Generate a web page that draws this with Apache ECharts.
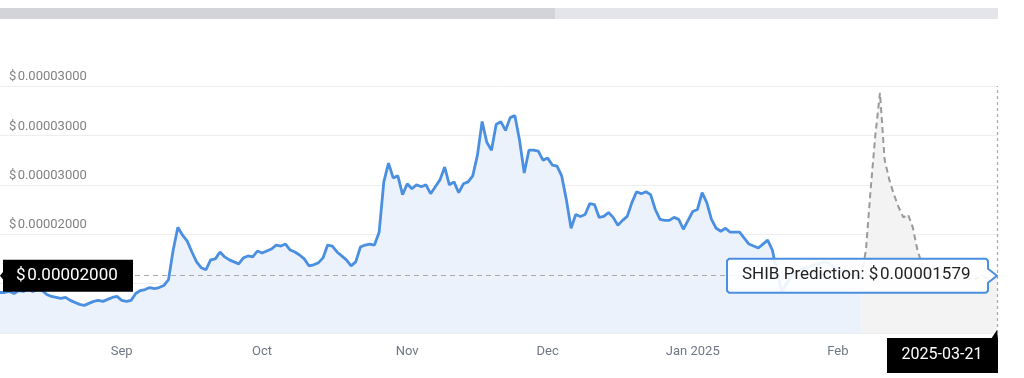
<!DOCTYPE html>
<html><head><meta charset="utf-8">
<script src="https://cdn.jsdelivr.net/npm/echarts@6/dist/echarts.min.js"></script>
<style>html,body{margin:0;padding:0;background:#fff}#c{width:1024px;height:378px}</style>
</head><body><div id="c"></div>
<script>
// ---- data (prices in units of 0.00001 USD) ----
const startDate = '2024-08-20';
const endDate = '2025-03-21';
const predictionStart = '2025-02-20';
const historyPrices = [
 1.41,1.41,1.42,1.40,1.43,1.42,1.44,1.42,1.44,1.43,
 1.39,1.37,1.36,1.35,1.36,1.33,1.31,1.29,1.28,1.30,
 1.32,1.33,1.32,1.34,1.36,1.37,1.33,1.32,1.33,1.40,
 1.43,1.44,1.46,1.45,1.46,1.48,1.54,1.84,2.07,1.99,
 1.93,1.82,1.72,1.66,1.64,1.74,1.75,1.82,1.77,1.74,
 1.72,1.70,1.76,1.78,1.77,1.83,1.81,1.83,1.85,1.89,
 1.88,1.90,1.84,1.82,1.79,1.75,1.68,1.69,1.71,1.76,
 1.89,1.88,1.82,1.78,1.74,1.68,1.72,1.87,1.89,1.90,
 1.89,2.02,2.53,2.72,2.57,2.59,2.40,2.51,2.46,2.50,
 2.48,2.50,2.41,2.48,2.55,2.68,2.50,2.53,2.42,2.51,
 2.53,2.59,2.80,3.14,2.93,2.85,3.11,3.14,3.05,3.18,
 3.20,2.95,2.62,2.85,2.85,2.84,2.75,2.77,2.70,2.69,
 2.59,2.35,2.06,2.20,2.18,2.20,2.31,2.30,2.17,2.18,
 2.22,2.17,2.09,2.14,2.18,2.32,2.43,2.41,2.43,2.40,
 2.25,2.15,2.14,2.14,2.17,2.15,2.05,2.14,2.23,2.25,
 2.42,2.32,2.15,2.06,2.03,2.06,2.02,2.02,2.02,1.96,
 1.90,1.88,1.86,1.90,1.94,1.84,1.62,1.42,1.50,1.57,
 1.62,1.64,1.66,1.67,1.69,1.70,1.72,1.71,1.67,1.65,
 1.63,1.61,1.59,1.58,1.56
];
const predictionPrices = [
 1.56,1.84,2.45,3.00,3.43,2.75,2.55,2.40,2.27,2.17,
 2.20,2.07,1.84,1.69,1.62,1.59,1.58,1.56,1.57,1.55,
 1.54,1.56,1.57,1.55,1.54,1.56,1.57,1.55,1.56,1.579
];
const yMin = 1, yMax = 3.5, yStep = 0.5;
const yTickLabels = ['$\u200A0.00001000','$\u200A0.00002000','$\u200A0.00002000','$\u200A0.00003000','$\u200A0.00003000','$\u200A0.00003000'];
const xTickDates = ['2024-09-15','2024-10-15','2024-11-15','2024-12-15','2025-01-15','2025-02-15','2025-03-15'];
const xTickLabels = ['Sep','Oct','Nov','Dec','Jan 2025','Feb','Mar'];
const seriesName = 'SHIB Prediction';

// ---- categories (daily dates) ----
const dates = [];
for (let t = Date.parse(startDate + 'T00:00:00Z'); t <= Date.parse(endDate + 'T00:00:00Z'); t += 86400000) {
  dates.push(new Date(t).toISOString().slice(0, 10));
}
const predIdx = dates.indexOf(predictionStart);
const histData = dates.map((d, i) => i < historyPrices.length ? historyPrices[i] : '-');
const predData = dates.map((d, i) => i >= predIdx ? predictionPrices[i - predIdx] : '-');
const lastVal = predictionPrices[predictionPrices.length - 1];

const BLUE = '#4a8fe0';
const chart = echarts.init(document.getElementById('c'), null, {renderer: 'canvas'});
chart.setOption({
  animation: false,
  textStyle: {fontFamily: 'Roboto'},
  grid: {left: 0, right: 27, top: 86, bottom: 45, containLabel: false, outerBoundsMode: 'none'},
  xAxis: {
    type: 'category', data: dates, boundaryGap: false,
    axisLine: {show: false}, axisTick: {show: false}, splitLine: {show: false},
    axisLabel: {
      interval: (i, v) => xTickDates.indexOf(v) >= 0,
      formatter: v => xTickLabels[xTickDates.indexOf(v)] || '',
      color: '#707784', fontSize: 13, margin: 12, fontFamily: 'Roboto'
    }
  },
  yAxis: {
    type: 'value', min: yMin, max: yMax, interval: yStep,
    axisLine: {show: false}, axisTick: {show: false},
    splitLine: {lineStyle: {color: '#eeeeee', width: 1}},
    axisLabel: {
      inside: true, margin: 9, verticalAlign: 'bottom', lineHeight: 14, padding: [0, 0, 2, 0],
      color: '#828282', fontSize: 13, fontFamily: 'Roboto',
      formatter: v => yTickLabels[Math.round((v - yMin) / yStep)]
    }
  },
  series: [
    {
      type: 'line', name: 'SHIB', data: histData, symbol: 'none', z: 2,
      lineStyle: {color: BLUE, width: 2.8},
      areaStyle: {color: '#ebf2fc', opacity: 1}
    },
    {
      type: 'line', name: seriesName, data: predData, symbol: 'none', z: 3,
      lineStyle: {color: '#9a9a9a', width: 2, type: [6, 4]},
      areaStyle: {color: '#f3f3f3', opacity: 1},
      markLine: {
        silent: true, symbol: ['none', 'none'], label: {show: false},
        data: [
          {xAxis: endDate, lineStyle: {type: [3, 3], color: '#aaaaaa', width: 1.2}},
          {yAxis: lastVal, lineStyle: {type: [5, 4], color: '#aaaaaa', width: 1.2}}
        ]
      }
    }
  ]
});

const px = chart.convertToPixel({xAxisIndex: 0}, endDate);
const py = chart.convertToPixel({yAxisIndex: 0}, lastVal);
const pb = chart.convertToPixel({yAxisIndex: 0}, yMin);

const L = px - 270, R = px - 9, T = py - 17, B = py + 17, c = 2;
const tipPoints = [
  [L + c, T], [R - c, T], [R, T + c], [R, py - 7], [px, py], [R, py + 7],
  [R, B - c], [R - c, B], [L + c, B], [L, B - c], [L, T + c]
];

const yPointerText = '$\u200A' + (lastVal * 1e-5).toFixed(5) + '000';
const tipText = seriesName + ': $\u200A' + (lastVal * 1e-5).toFixed(8);

chart.setOption({
  graphic: [
    {type: 'rect', shape: {x: 0, y: 8, width: 555, height: 11}, style: {fill: '#d3d4da'}, z: 50},
    {type: 'rect', shape: {x: 555, y: 8, width: px + 1 - 555, height: 11}, style: {fill: '#e4e5eb'}, z: 50},
    // y axis pointer label
    {type: 'polygon', shape: {points: [[0, py], [4, py - 5], [4, py + 5]]}, style: {fill: '#000'}, z: 100},
    {type: 'rect', shape: {x: 3, y: py - 16, width: 130, height: 32}, style: {fill: '#000'}, z: 100},
    {type: 'text', x: 16, y: py, z: 101,
      style: {text: yPointerText, fill: '#fff', font: '17px Roboto', align: 'left', textAlign: 'left', verticalAlign: 'middle', textVerticalAlign: 'middle'}},
    // x axis pointer label
    {type: 'rect', shape: {x: px - 110, y: pb + 5, width: 111, height: 35}, style: {fill: '#000'}, z: 100},
    {type: 'polygon', shape: {points: [[px - 6, pb + 6], [px + 1, pb + 6], [px, pb - 3]]}, style: {fill: '#000'}, z: 100},
    {type: 'text', x: px - 55, y: pb + 22, z: 101,
      style: {text: endDate, fill: '#fff', font: '16px Roboto', align: 'center', textAlign: 'center', verticalAlign: 'middle', textVerticalAlign: 'middle'}},
    // tooltip
    {type: 'polygon', shape: {points: tipPoints}, style: {fill: 'rgba(255,255,255,0.9)', stroke: BLUE, lineWidth: 2, lineJoin: 'round'}, z: 100},
    {type: 'text', x: L + 15, y: py - 1, z: 101,
      style: {text: tipText, fill: '#222', font: '17px Roboto', align: 'left', textAlign: 'left', verticalAlign: 'middle', textVerticalAlign: 'middle'}}
  ]
});
</script>
</body></html>
